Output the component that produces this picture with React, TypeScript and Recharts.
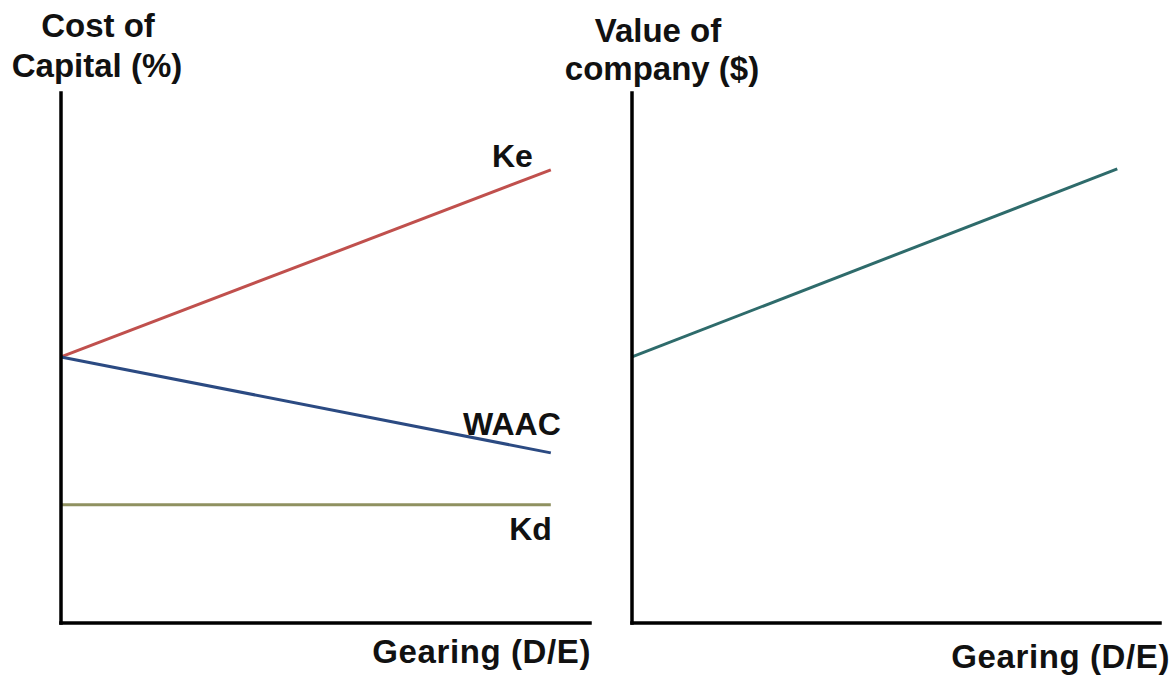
import React from 'react';
import { LineChart, Line, XAxis, YAxis } from 'recharts';

// Left panel: cost of capital vs gearing
const gearing = [0, 1];
const keValues = [50.2, 85.5];
const waacValues = [50.2, 32.1];
const kdValues = [22.3, 22.3];
// Right panel: value of company vs gearing
const valueValues = [50.2, 85.7];

const leftData = gearing.map((g, i) => ({ g, ke: keValues[i], waac: waacValues[i], kd: kdValues[i] }));
const rightData = gearing.map((g, i) => ({ g, value: valueValues[i] }));

const FONT = '"Liberation Sans", Arial, sans-serif';
const textStyle: React.CSSProperties = { fontFamily: FONT, fontWeight: 700, fontSize: 32, fill: '#111' };
const titleStyle: React.CSSProperties = { ...textStyle, fontSize: 33 };

const axisLine = { stroke: '#000', strokeWidth: 3.5, strokeLinecap: 'square' as const };

const endLabel = (text: string, dx: number, dy: number, n: number) => (props: any) => {
  const { x, y, index } = props;
  if (index !== n - 1) return null;
  return (
    <text x={x + dx} y={y + dy} textAnchor="end" style={textStyle}>
      {text}
    </text>
  );
};

const yTitle = (l1: string, l2: string, cx1: number, cx2: number, b1: number, b2: number) => (props: any) => {
  const vb = props.viewBox || { x: 0, y: 0 };
  const ax = vb.x + (vb.width || 0);
  return (
    <g>
      <text x={ax + cx1} y={b1} textAnchor="middle" style={titleStyle}>{l1}</text>
      <text x={ax + cx2} y={b2} textAnchor="middle" style={titleStyle}>{l2}</text>
    </g>
  );
};

const xTitle = (t: string, dy: number, dxEnd: number) => (props: any) => {
  const vb = props.viewBox || { x: 0, y: 0, width: 0 };
  return (
    <text x={vb.x + vb.width + dxEnd} y={vb.y + dy} textAnchor="end" style={{ ...titleStyle, letterSpacing: 0.6 }}>{t}</text>
  );
};

export default function App() {
  return (
    <div style={{ position: 'absolute', left: 0, top: 0, width: 1173, height: 678, background: '#fff', overflow: 'hidden' }}>
      <div style={{ position: 'absolute', left: 0, top: 0 }}>
        <LineChart width={600} height={678} data={leftData} margin={{ top: 93, left: 60, right: 10, bottom: 54 }}>
          <XAxis dataKey="g" type="number" domain={[0, 1.08]} tick={false} tickLine={false} height={1} axisLine={axisLine}
            label={{ content: xTitle('Gearing (D/E)', 40, 1) } as any} />
          <YAxis type="number" domain={[0, 100]} tick={false} tickLine={false} width={1} axisLine={axisLine}
            label={{ content: yTitle('Cost of', 'Capital (%)', 37, 36, 37, 77) } as any} />
          <Line dataKey="ke" stroke="#c0504d" strokeWidth={3} dot={false} isAnimationActive={false}
            label={endLabel('Ke', -18, -3, keValues.length)} />
          <Line dataKey="waac" stroke="#2b4a82" strokeWidth={3} dot={false} isAnimationActive={false}
            label={endLabel('WAAC', 10, -18, waacValues.length)} />
          <Line dataKey="kd" stroke="#8f9160" strokeWidth={3} dot={false} isAnimationActive={false}
            label={endLabel('Kd', 1, 35, kdValues.length)} />
        </LineChart>
      </div>
      <div style={{ position: 'absolute', left: 540, top: 0 }}>
        <LineChart width={633} height={678} data={rightData} margin={{ top: 93, left: 91, right: 13, bottom: 54 }}>
          <XAxis dataKey="g" type="number" domain={[0, 1.088]} tick={false} tickLine={false} height={1} axisLine={axisLine}
            label={{ content: xTitle('Gearing (D/E)', 45, 10) } as any} />
          <YAxis type="number" domain={[0, 100]} tick={false} tickLine={false} width={1} axisLine={axisLine}
            label={{ content: yTitle('Value of', 'company ($)', 26, 30, 42, 80) } as any} />
          <Line dataKey="value" stroke="#2e6b6b" strokeWidth={3} dot={false} isAnimationActive={false} />
        </LineChart>
      </div>
    </div>
  );
}
